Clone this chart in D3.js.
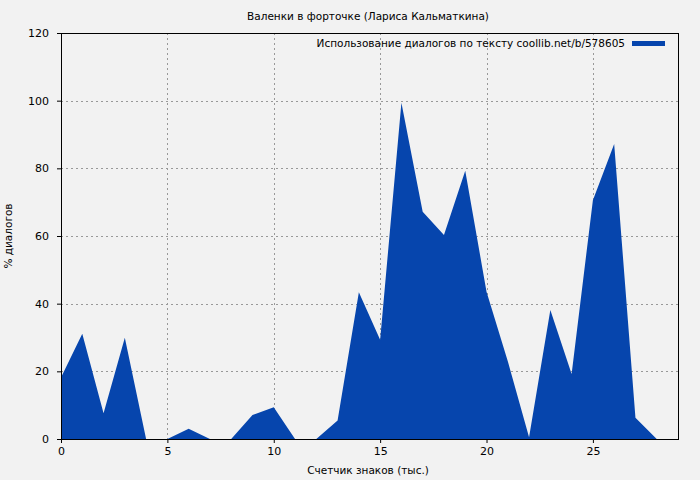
<!DOCTYPE html>
<html><head><meta charset="utf-8">
<script src="https://cdn.jsdelivr.net/npm/d3@7/dist/d3.min.js"></script>
<style>body{margin:0;background:#f2f2f2}svg{display:block}text{font-family:"DejaVu Sans",sans-serif;fill:#000}</style>
</head><body><svg id="c" width="700" height="480"></svg>
<script>
const xValues = [0,1,2,3,4,5,6,7,8,9,10,11,12,13,14,15,16,17,18,19,20,21,22,23,24,25,26,27,28];
const yValues = [18.2,31.1,7.6,29.9,0,0,3.0,0,0,7.1,9.4,0,0,5.5,43.4,29.3,99.4,67.2,60.3,79.3,43.5,23,0.5,38.1,19.2,70.6,87.2,6.3,0];
const xTicks = [0,5,10,15,20,25];
const yTicks = [0,20,40,60,80,100,120];
const title = "Валенки в форточке (Лариса Кальматкина)";
const seriesName = "Использование диалогов по тексту coollib.net/b/578605";
const xLabel = "Счетчик знаков (тыс.)";
const yLabel = "% диалогов";

const svg = d3.select("#c");
const L=61,R=678,T=33,B=439;
const x = d3.scaleLinear().domain([0,29]).range([L,R]);
const y = d3.scaleLinear().domain([0,120]).range([B,T]);
svg.append("rect").attr("width",700).attr("height",480).attr("fill","#f2f2f2");

// grid
const g = svg.append("g").attr("stroke","#999").attr("stroke-dasharray","2,3").attr("stroke-width",1);
xTicks.filter(d=>d>0).forEach(d=>g.append("line").attr("x1",Math.round(x(d))+0.5).attr("x2",Math.round(x(d))+0.5).attr("y1",T).attr("y2",B));
yTicks.filter(d=>d>0&&d<120).forEach(d=>g.append("line").attr("y1",Math.round(y(d))+0.5).attr("y2",Math.round(y(d))+0.5).attr("x1",L).attr("x2",R));

// area
const data = xValues.map((d,i)=>[d,yValues[i]]);
svg.append("path").datum(data)
  .attr("d", d3.area().x(d=>x(d[0])).y0(y(0)).y1(d=>y(d[1])))
  .attr("fill","#0645ad");

// axes
const xa = svg.append("g").attr("transform",`translate(0,${B})`)
  .call(d3.axisBottom(x).tickValues(xTicks).tickSize(4).tickPadding(4).tickFormat(d3.format("d")));
const ya = svg.append("g").attr("transform",`translate(${L},0)`)
  .call(d3.axisLeft(y).tickValues(yTicks).tickSize(4).tickPadding(8).tickFormat(d3.format("d")));
[xa,ya].forEach(a=>{a.select(".domain").remove();a.selectAll("text").attr("font-size",11).attr("font-family","DejaVu Sans").attr("fill","#000");a.selectAll("line").attr("stroke","#000");});

// frame
svg.append("rect").attr("x",L+0.5).attr("y",T+0.5).attr("width",R-L).attr("height",B-T)
  .attr("fill","none").attr("stroke","#000").attr("stroke-width",1);

// title & labels
svg.append("text").attr("x",368).attr("y",20).attr("text-anchor","middle").attr("font-size",10.5).text(title);
svg.append("text").attr("x",368).attr("y",474).attr("text-anchor","middle").attr("font-size",10.5).text(xLabel);
svg.append("text").attr("transform","translate(12,236) rotate(-90)").attr("text-anchor","middle").attr("font-size",10.5).text(yLabel);

// legend
svg.append("text").attr("x",625).attr("y",47).attr("text-anchor","end").attr("font-size",10.5).text(seriesName);
svg.append("rect").attr("x",632).attr("y",41).attr("width",33).attr("height",5).attr("fill","#0645ad");
</script></body></html>
